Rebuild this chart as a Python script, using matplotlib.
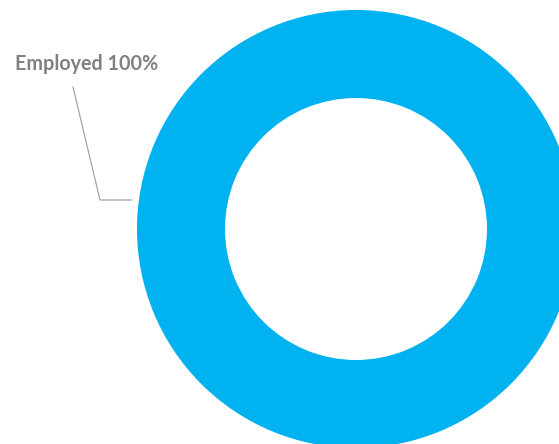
import matplotlib

matplotlib.use("Agg")
import matplotlib.pyplot as plt

labels = ["Employed"]
shares = [100]
colors = ["#00B2F0"]

W, H = 559, 444
fig = plt.figure(figsize=(W / 100, H / 100), dpi=100)
ax = fig.add_axes([0, 0, 1, 0.999999])

# ring in pixel-like coordinates (y grows downward)
ax.pie(shares, colors=colors, radius=219, center=(356, 229), startangle=90,
       counterclock=False, wedgeprops=dict(width=88, linewidth=0))
ax.set_xlim(0, W)
ax.set_ylim(H, 0)
ax.set_aspect("auto")
ax.axis("off")

# leader line to the label
ax.plot([73, 100, 132], [87, 200, 200], color="#9a9a9a", lw=0.8)
ax.text(15, 70, f"{labels[0]} {shares[0]}%", fontsize=14.2, fontweight="bold",
        family="Lato", color="#808080", ha="left", va="baseline")

fig.savefig("out.png", dpi=100)
